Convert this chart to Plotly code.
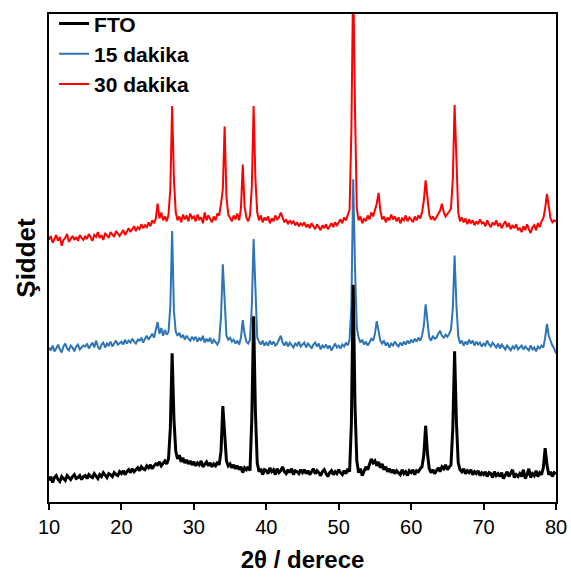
import numpy as np
import plotly.graph_objects as go

# 2theta scan, 10-80 deg in 0.25 deg steps (281 points)
two_theta = np.arange(281) * 0.25 + 10

# Intensities (arbitrary units)
fto = [
    22, 26, 20, 25, 27, 23, 21, 26, 24, 22, 27, 25, 23, 26, 28, 24, 25, 27, 23, 26,
    27, 24, 28, 26, 25, 29, 27, 24, 28, 26, 30, 27, 25, 29, 28, 26, 30, 28, 27, 31,
    29, 32, 28, 31, 33, 30, 34, 31, 33, 35, 32, 36, 34, 33, 37, 35, 38, 34, 37, 39,
    38, 41, 37, 40, 42, 39, 44, 75, 152, 85, 52, 44, 48, 41, 45, 40, 43, 39, 42, 38,
    41, 37, 40, 38, 42, 36, 39, 41, 37, 40, 36, 39, 37, 41, 38, 52, 98, 72, 42, 37,
    39, 35, 38, 34, 37, 33, 36, 30, 35, 33, 36, 32, 85, 190, 92, 40, 31, 34, 28, 33,
    32, 29, 35, 31, 33, 28, 34, 30, 32, 36, 31, 29, 33, 30, 34, 28, 32, 31, 29, 33,
    30, 33, 29, 32, 28, 31, 34, 29, 32, 30, 27, 31, 33, 29, 26, 30, 32, 28, 31, 29,
    33, 30, 28, 32, 29, 34, 31, 80, 222, 98, 42, 30, 34, 27, 32, 36, 33, 38, 44, 40,
    42, 37, 41, 35, 39, 33, 36, 31, 34, 30, 33, 29, 32, 30, 28, 33, 29, 31, 27, 32,
    30, 33, 28, 32, 31, 34, 36, 48, 78, 50, 34, 30, 33, 29, 32, 35, 31, 36, 34, 38,
    33, 36, 38, 75, 154, 82, 40, 33, 31, 34, 29, 32, 30, 33, 28, 31, 29, 32, 27, 30,
    28, 31, 26, 30, 29, 25, 31, 27, 29, 26, 30, 24, 28, 31, 26, 29, 33, 25, 28, 26,
    29, 26, 33, 24, 28, 34, 25, 29, 27, 32, 26, 30, 28, 35, 55, 38, 28, 31, 26, 30,
    29,
]

dk15 = [
    158, 155, 160, 154, 157, 161, 156, 153, 159, 162, 157, 155, 160, 158, 154, 159, 161, 156, 158, 160,
    159, 162, 157, 160, 163, 158, 165, 159, 156, 161, 163, 158, 162, 160, 164, 159, 162, 165, 161, 163,
    164, 161, 166, 162, 165, 163, 167, 164, 162, 166, 165, 168, 163, 167, 170, 166, 169, 172, 168, 175,
    184, 172, 178, 170, 176, 171, 174, 200, 277, 195, 174, 170, 173, 168, 171, 166, 170, 167, 165, 169,
    166, 169, 164, 168, 165, 170, 163, 167, 164, 168, 162, 166, 163, 161, 165, 190, 243, 200, 170, 166,
    168, 164, 166, 162, 165, 161, 168, 186, 172, 164, 162, 166, 200, 269, 210, 168, 164, 161, 165, 160,
    163, 160, 165, 161, 164, 160, 162, 166, 170, 163, 160, 164, 159, 163, 161, 158, 162, 160, 164, 159,
    161, 163, 158, 162, 160, 157, 161, 163, 159, 162, 156, 160, 158, 161, 157, 160, 155, 159, 162, 158,
    160, 157, 161, 159, 163, 160, 166, 200, 330, 240, 178, 168, 163, 166, 161, 164, 160, 163, 167, 165,
    172, 185, 174, 165, 162, 165, 160, 163, 158, 162, 160, 164, 161, 159, 163, 160, 164, 161, 165, 162,
    166, 163, 167, 164, 168, 165, 170, 180, 202, 182, 168, 165, 170, 167, 168, 172, 175, 170, 168, 171,
    169, 172, 176, 198, 252, 202, 170, 162, 165, 160, 164, 161, 166, 162, 165, 160, 164, 161, 163, 159,
    162, 160, 165, 161, 159, 163, 160, 158, 162, 157, 161, 159, 156, 160, 158, 155, 159, 157, 161, 156,
    158, 160, 156, 159, 157, 155, 160, 156, 158, 154, 159, 157, 160, 158, 168, 182, 170, 164, 160, 157,
    152,
]

dk30 = [
    268, 272, 265, 270, 273, 267, 271, 262, 268, 270, 274, 266, 269, 272, 268, 271, 267, 273, 270, 268,
    272, 269, 274, 270, 267, 273, 271, 276, 270, 273, 268, 275, 272, 270, 276, 273, 271, 277, 274, 272,
    275, 278, 273, 277, 280, 276, 279, 282, 277, 281, 279, 284, 280, 283, 281, 286, 282, 288, 285, 290,
    305, 290, 296, 288, 292, 287, 294, 320, 405, 330, 296, 288, 292, 286, 294, 289, 293, 287, 295, 290,
    292, 287, 294, 289, 291, 285, 296, 288, 293, 290, 286, 292, 288, 295, 293, 305, 320, 384, 312, 294,
    290, 287, 293, 289, 295, 288, 300, 345, 302, 291, 287, 293, 322, 405, 330, 296, 288, 293, 286, 291,
    288, 292, 285, 290, 287, 293, 289, 291, 296, 290, 286, 289, 284, 288, 285, 287, 283, 286, 282, 285,
    283, 286, 281, 284, 280, 285, 282, 279, 284, 281, 278, 283, 280, 284, 279, 282, 285, 281, 286, 283,
    286, 289, 285, 291, 288, 294, 299, 380, 540, 400, 300, 288, 292, 285, 290, 287, 293, 289, 296, 292,
    298, 305, 316, 298, 289, 292, 286, 291, 288, 294, 289, 292, 287, 291, 285, 290, 288, 293, 287, 291,
    289, 286, 292, 288, 293, 290, 296, 308, 329, 310, 294, 289, 292, 288, 291, 295, 298, 305, 296, 292,
    294, 297, 300, 330, 406, 340, 296, 287, 291, 286, 290, 284, 289, 285, 288, 283, 287, 284, 289, 285,
    286, 282, 288, 284, 281, 286, 283, 288, 282, 285, 280, 284, 287, 281, 285, 279, 283, 280, 284, 278,
    280, 276, 282, 278, 284, 279, 275, 281, 283, 278, 285, 281, 287, 290, 300, 315, 300, 290, 286, 288,
    287,
]

series_names = ["FTO", "15 dakika", "30 dakika"]
series_colors = ["#000000", "#2E75B6", "#FF0000"]
series_widths = [3, 2, 2]
series_data = [fto, dk15, dk30]

fig = go.Figure()

# draw red first so blue and black sit on top; legend keeps FTO first
for rank, (name, color, width, y) in reversed(list(enumerate(zip(series_names, series_colors, series_widths, series_data)))):
    fig.add_trace(go.Scatter(
        x=two_theta,
        y=y,
        mode='lines',
        name=name,
        legendgroup=name,
        legendrank=rank + 1,
        line=dict(color=color, width=width),
    ))

font_family = "Liberation Sans, Arial, sans-serif"

fig.update_layout(
    width=571,
    height=577,
    margin=dict(l=49, r=15, t=3, b=75),
    plot_bgcolor='white',
    paper_bgcolor='white',
    font=dict(family=font_family, color='black'),
    showlegend=True,
    legend=dict(
        x=0.01, y=1.022, xanchor='left', yanchor='top',
        traceorder='grouped',
        tracegroupgap=0,
        bgcolor='rgba(0,0,0,0)',
        font=dict(size=21, family=font_family, color='black', weight='bold'),
    ),
    xaxis=dict(
        range=[10, 80],
        tickvals=[10, 20, 30, 40, 50, 60, 70, 80],
        ticks='outside', ticklen=6, tickwidth=2, tickcolor='black',
        showline=True, linecolor='black', linewidth=2, mirror=True,
        showgrid=False, zeroline=False,
        tickfont=dict(size=20, color='black'),
        title=dict(text="<b>2θ / derece</b>", font=dict(size=24, color='black'), standoff=14),
    ),
    yaxis=dict(
        range=[0, 499],
        showticklabels=False, ticks='',
        showline=True, linecolor='black', linewidth=2, mirror=True,
        showgrid=False, zeroline=False,
        title=dict(text="<b>Şiddet</b>", font=dict(size=26, color='black'), standoff=4),
    ),
)

fig.write_html("out.html", config={'displayModeBar': False},
               post_script="document.body.style.margin = '0px';")
